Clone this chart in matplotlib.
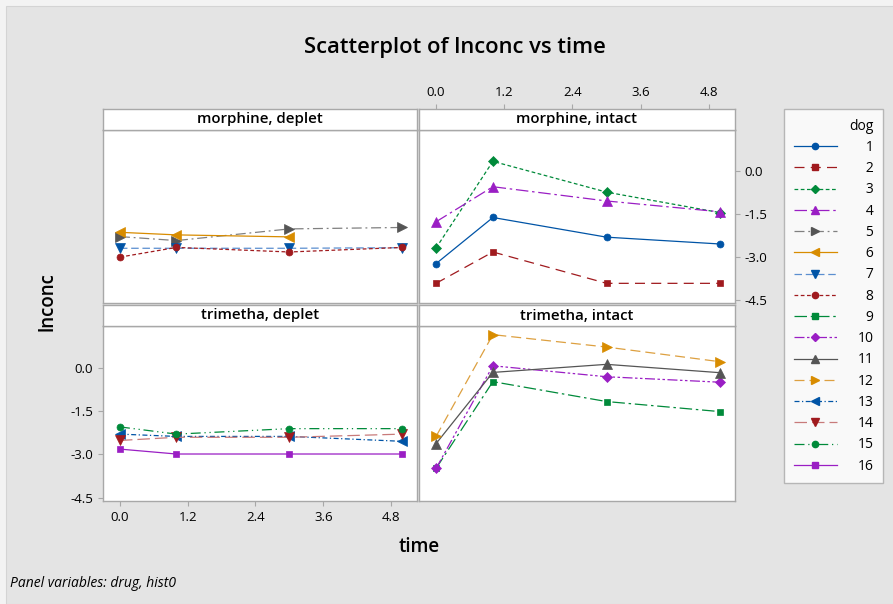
import numpy as np
import matplotlib
matplotlib.use("Agg")
import matplotlib.pyplot as plt
from matplotlib.lines import Line2D
from matplotlib.patches import Rectangle

plt.rcParams['font.family'] = ['Open Sans', 'DejaVu Sans']

# ---------------- data ----------------
time = [0, 1, 3, 5]
panels = [("morphine", "deplet"), ("morphine", "intact"),
          ("trimetha", "deplet"), ("trimetha", "intact")]
dog_panel = {1: 1, 2: 1, 3: 1, 4: 1,
             5: 0, 6: 0, 7: 0, 8: 0,
             9: 3, 10: 3, 11: 3, 12: 3,
             13: 2, 14: 2, 15: 2, 16: 2}
lnconc = {
    1: [-3.24, -1.62, -2.31, -2.55],
    2: [-3.93, -2.83, -3.93, -3.93],
    3: [-2.69, 0.35, -0.73, -1.45],
    4: [-1.77, -0.54, -1.04, -1.42],
    5: [-2.29, -2.43, -2.02, -1.97],
    6: [-2.14, -2.23, -2.30, np.nan],
    7: [-2.70, -2.70, -2.70, -2.68],
    8: [-3.01, -2.67, -2.83, -2.67],
    9: [-3.49, -0.48, -1.17, -1.52],
    10: [-3.49, 0.07, -0.31, -0.50],
    11: [-2.63, -0.16, 0.12, -0.17],
    12: [-2.38, 1.15, 0.72, 0.21],
    13: [-2.30, -2.38, -2.38, -2.55],
    14: [-2.52, -2.41, -2.41, -2.30],
    15: [-2.05, -2.30, -2.11, -2.11],
    16: [-2.82, -2.99, -2.99, -2.99],
}
xticks = [0.0, 1.2, 2.4, 3.6, 4.8]
yticks = [0.0, -1.5, -3.0, -4.5]

# ---------------- styles ----------------
BLUE = '#0054a6'; RED = '#a01a1e'; GREEN = '#008a3a'; PURPLE = '#9a1ec4'
GRAY = '#555555'; ORANGE = '#d88c00'
style = {
    1: (BLUE, BLUE, '-', 'o', 5),
    2: (RED, RED, (0, (8, 5)), 's', 5),
    3: (GREEN, GREEN, (0, (3, 2)), 'D', 5),
    4: (PURPLE, PURPLE, (0, (10, 3, 2, 3)), '^', 6.5),
    5: (GRAY, '#808080', (0, (8, 3, 1.5, 3)), '>', 6.5),
    6: (ORANGE, ORANGE, '-', '<', 6.5),
    7: (BLUE, '#5b8fd0', (0, (6, 3)), 'v', 6.5),
    8: (RED, RED, (0, (3, 2)), 'o', 5),
    9: (GREEN, GREEN, (0, (10, 3, 2, 3)), 's', 5),
    10: (PURPLE, PURPLE, (0, (8, 2, 2, 2, 2, 2)), 'D', 5),
    11: (GRAY, GRAY, '-', '^', 6.5),
    12: (ORANGE, '#dda040', (0, (8, 4)), '>', 6.5),
    13: (BLUE, BLUE, (0, (4, 2, 1, 2)), '<', 6.5),
    14: (RED, '#c87a7a', (0, (10, 4)), 'v', 6.5),
    15: (GREEN, GREEN, (0, (8, 3, 1, 3, 1, 3)), 'o', 5),
    16: (PURPLE, PURPLE, '-', 's', 5),
}

W, H = 893, 604
fig = plt.figure(figsize=(W / 100, H / 100), dpi=100)
fig.patch.set_facecolor('#f3f3f3')
fig.patches.append(Rectangle((6 / W, 0), 1, 1 - 6 / H, transform=fig.transFigure,
                             facecolor='#e4e4e4', edgecolor='#d4d4d4',
                             linewidth=0.8, zorder=-10))

def rect(x0, y0, x1, y1):
    return [x0 / W, 1 - y1 / H, (x1 - x0) / W, (y1 - y0) / H]

# panel pixel geometry
cols = [(103, 417), (419, 735)]
rows = [(109, 130, 303), (305, 326, 501)]
BORDER = '#a8a8a8'
XLIM = (-0.3, 5.26)
YLIM = (-4.62, 1.45)

axes = []
strips = []
for r in range(2):
    for c in range(2):
        x0, x1 = cols[c]
        s0, s1, p1 = rows[r]
        ax = fig.add_axes(rect(x0, s1, x1, p1))
        sx = fig.add_axes(rect(x0, s0, x1, s1))
        for a in (ax, sx):
            a.set_facecolor('white')
            for sp in a.spines.values():
                sp.set_color(BORDER)
                sp.set_linewidth(1.0)
            a.set_xlim(XLIM)
            a.tick_params(colors=BORDER, labelcolor='black', labelsize=9.5,
                          length=3.5, width=0.8)
        ax.set_ylim(YLIM)
        sx.set_yticks([])
        sx.text(0.5, 0.5, f"{panels[r*2+c][0]}, {panels[r*2+c][1]}",
                transform=sx.transAxes, ha='center', va='center',
                fontsize=10.8, fontweight='semibold')
        axes.append(ax)
        strips.append(sx)

# tick placement (Minitab alternating style)
for i, (ax, sx) in enumerate(zip(axes, strips)):
    ax.set_xticks(xticks)
    ax.set_yticks(yticks)
    sx.set_xticks([])
    ax.tick_params(bottom=False, labelbottom=False, left=False, labelleft=False)
    if i == 1:
        sx.set_xticks(xticks)
        sx.set_xticklabels([f"{v:.1f}" for v in xticks])
        sx.tick_params(top=True, labeltop=True, bottom=False, labelbottom=False)
        ax.tick_params(right=True, labelright=True)
        ax.set_yticklabels([f"{v:.1f}" for v in yticks])
    if i == 2:
        ax.tick_params(bottom=True, labelbottom=True, left=True, labelleft=True)
        ax.set_xticklabels([f"{v:.1f}" for v in xticks])
        ax.set_yticklabels([f"{v:.1f}" for v in yticks])

handles = []
for dog in range(1, 17):
    mc, lc, ls, mk, ms = style[dog]
    ax = axes[dog_panel[dog]]
    ax.plot(time, lnconc[dog], color=lc, linestyle=ls, linewidth=0.9,
            marker=mk, markersize=ms, markerfacecolor=mc, markeredgecolor=mc,
            markeredgewidth=0.5, clip_on=False, zorder=3)
    handles.append(Line2D([], [], color=lc, linestyle=ls, linewidth=0.9,
                          marker=mk, markersize=ms * 0.9, markerfacecolor=mc,
                          markeredgecolor=mc))

labels = [f"{d:>2}".replace(' ', '\u2007') for d in range(1, 17)]
leg = fig.legend(handles, labels, title='dog', loc='upper left',
                 bbox_to_anchor=(784 / W, 1 - 109 / H), frameon=True,
                 fancybox=False, edgecolor=BORDER, facecolor='white',
                 fontsize=10, title_fontsize=10, handlelength=3.1,
                 labelspacing=0.45, borderpad=0.7, handletextpad=1.5,
                 borderaxespad=0, alignment='right')
leg.get_frame().set_linewidth(1.0)

fig.text(455 / W, 1 - 48 / H, "Scatterplot of lnconc vs time", ha='center',
         va='center', fontsize=15.8, fontweight='semibold')
fig.text(48 / W, 1 - 302 / H, "lnconc", ha='center', va='center',
         rotation=90, fontsize=13.5, fontweight='semibold')
fig.text(419 / W, 1 - 547 / H, "time", ha='center', va='center',
         fontsize=13.5, fontweight='semibold')
fig.text(10 / W, 1 - 587 / H, "Panel variables: drug, hist0", ha='left',
         va='baseline', fontsize=10, style='italic')

fig.savefig("out.png", dpi=100, facecolor=fig.get_facecolor())
